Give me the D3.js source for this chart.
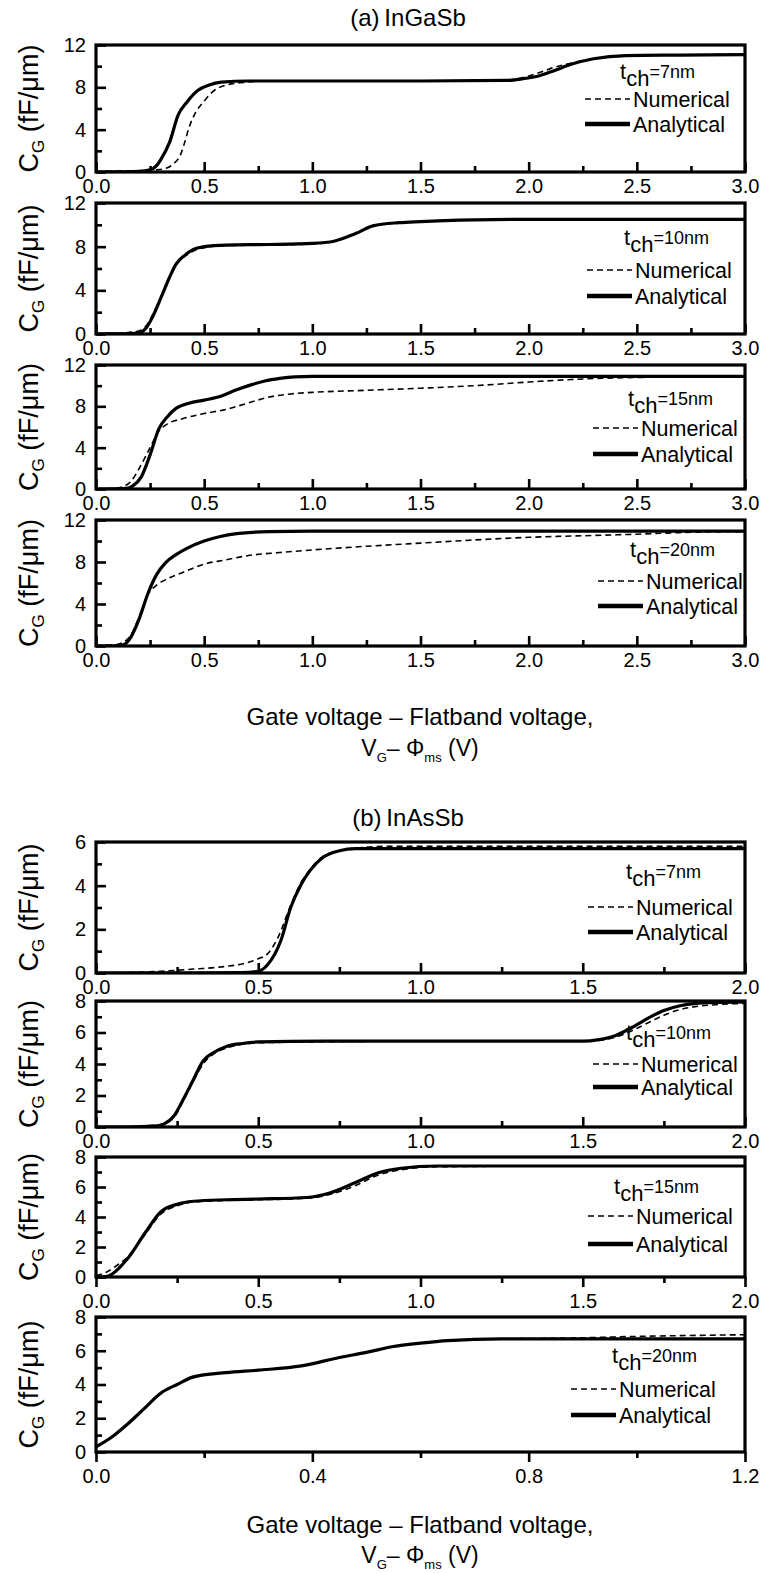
<!DOCTYPE html>
<html>
<head>
<meta charset="utf-8">
<script src="https://cdn.jsdelivr.net/npm/d3@7"></script>
<style>
  html, body { margin: 0; padding: 0; background: #fff; }
  svg { display: block; }
  text { font-family: "Liberation Sans", Arial, Helvetica, sans-serif; fill: #000; }
</style>
</head>
<body>
<svg id="chart" width="769" height="1573"></svg>
<script>
// ---- Gate capacitance C_G (fF/um) vs. V_G - Phi_ms (V) ----
// Each series: [voltage, capacitance]

// (a) InGaSb
const inGaSb7Num = [[0,0.05],[0.1,0.08],[0.2,0.12],[0.28,0.2],[0.33,0.4],[0.36,0.8],[0.39,1.6],[0.41,2.8],[0.43,4.2],[0.46,5.6],[0.5,6.7],[0.54,7.6],[0.6,8.2],[0.7,8.5],[0.8,8.6],[1.5,8.6],[1.9,8.7],[1.97,8.9],[2.05,9.4],[2.12,9.9],[2.2,10.3],[2.3,10.7],[2.45,11.0],[3.0,11.1]];
const inGaSb7Ana = [[0,0],[0.1,0.02],[0.2,0.05],[0.25,0.2],[0.28,0.6],[0.3,1.2],[0.34,2.8],[0.38,5.4],[0.42,6.6],[0.47,7.7],[0.52,8.2],[0.58,8.5],[0.7,8.6],[1.0,8.6],[1.5,8.6],[1.9,8.65],[1.97,8.8],[2.05,9.1],[2.12,9.6],[2.2,10.2],[2.3,10.7],[2.45,11.0],[2.7,11.05],[3.0,11.1]];

const inGaSb10Num = [[0,0.05],[0.1,0.05],[0.17,0.2],[0.2,0.3],[0.23,0.7],[0.26,1.7],[0.3,3.4],[0.34,5.2],[0.37,6.3],[0.41,7.1],[0.45,7.6],[0.5,7.9],[0.6,8.1],[0.8,8.15],[1.0,8.25],[1.1,8.5],[1.2,9.2],[1.28,9.9],[1.4,10.2],[1.5,10.3],[1.75,10.45],[3.0,10.5]];
const inGaSb10Ana = [[0,0],[0.15,0.02],[0.2,0.1],[0.23,0.5],[0.26,1.5],[0.3,3.3],[0.34,5.2],[0.37,6.4],[0.41,7.2],[0.45,7.75],[0.5,8.0],[0.6,8.15],[0.8,8.2],[1.0,8.3],[1.1,8.5],[1.2,9.2],[1.28,9.9],[1.4,10.2],[1.5,10.3],[1.75,10.45],[2.0,10.5],[3.0,10.5]];

const inGaSb15Num = [[0,0],[0.08,0.05],[0.12,0.2],[0.16,0.7],[0.2,2.0],[0.25,4.0],[0.29,5.6],[0.33,6.3],[0.4,6.8],[0.5,7.3],[0.6,7.7],[0.7,8.3],[0.8,8.9],[0.9,9.2],[1.0,9.35],[1.25,9.55],[1.5,9.75],[1.75,10.0],[2.0,10.35],[2.2,10.6],[2.4,10.75],[3.0,10.9]];
const inGaSb15Ana = [[0,0],[0.1,0.02],[0.15,0.1],[0.17,0.3],[0.21,1.2],[0.25,3.3],[0.29,5.8],[0.33,7.0],[0.37,7.8],[0.43,8.3],[0.5,8.6],[0.58,9.0],[0.65,9.6],[0.72,10.1],[0.78,10.45],[0.85,10.7],[0.92,10.85],[1.0,10.9],[2.0,10.9],[3.0,10.9]];

const inGaSb20Num = [[0,0.05],[0.08,0.1],[0.12,0.3],[0.16,1.0],[0.2,2.8],[0.24,4.9],[0.28,5.8],[0.32,6.3],[0.4,7.0],[0.5,7.8],[0.6,8.2],[0.7,8.6],[0.85,8.9],[1.0,9.15],[1.25,9.5],[1.5,9.8],[1.75,10.1],[2.0,10.35],[2.25,10.5],[2.5,10.65],[2.7,10.8],[3.0,10.9]];
const inGaSb20Ana = [[0,0],[0.1,0.02],[0.13,0.15],[0.16,0.8],[0.2,2.6],[0.24,5.0],[0.28,6.8],[0.32,7.9],[0.37,8.7],[0.42,9.3],[0.5,10.0],[0.57,10.4],[0.65,10.7],[0.8,10.9],[1.0,10.95],[3.0,10.95]];

// (b) InAsSb
const inAsSb7Num = [[0.1,0.02],[0.2,0.08],[0.3,0.18],[0.4,0.3],[0.46,0.45],[0.5,0.65],[0.53,0.9],[0.56,1.6],[0.6,3.1],[0.63,4.1],[0.66,4.75],[0.7,5.35],[0.75,5.6],[0.82,5.75],[0.9,5.8],[1.5,5.8],[2.0,5.8]];
const inAsSb7Ana = [[0,0],[0.3,0],[0.45,0.02],[0.5,0.08],[0.53,0.4],[0.57,1.5],[0.6,3.0],[0.63,4.0],[0.66,4.7],[0.7,5.3],[0.75,5.6],[0.8,5.7],[1.0,5.7],[2.0,5.7]];

const inAsSb10Num = [[0.1,0.02],[0.15,0.08],[0.2,0.15],[0.24,0.6],[0.27,1.7],[0.3,2.9],[0.33,4.0],[0.36,4.6],[0.4,5.0],[0.45,5.25],[0.5,5.35],[1.0,5.45],[1.5,5.45],[1.55,5.5],[1.6,5.7],[1.65,6.1],[1.7,6.6],[1.75,7.1],[1.8,7.45],[1.85,7.65],[1.9,7.75],[2.0,7.85]];
const inAsSb10Ana = [[0,0],[0.1,0],[0.18,0.05],[0.21,0.2],[0.24,0.7],[0.27,1.8],[0.3,3.0],[0.33,4.2],[0.36,4.7],[0.4,5.1],[0.45,5.3],[0.5,5.4],[0.7,5.45],[1.0,5.45],[1.5,5.45],[1.55,5.55],[1.6,5.8],[1.65,6.3],[1.7,6.9],[1.75,7.4],[1.8,7.7],[1.85,7.85],[1.9,7.9],[2.0,7.95]];

const inAsSb15Num = [[0,0.1],[0.03,0.3],[0.06,0.7],[0.1,1.4],[0.15,2.8],[0.2,4.2],[0.25,4.75],[0.3,5.0],[0.4,5.1],[0.5,5.15],[0.65,5.25],[0.72,5.5],[0.8,6.1],[0.87,6.8],[0.94,7.15],[1.05,7.35],[1.5,7.4],[2.0,7.4]];
const inAsSb15Ana = [[0,0],[0.03,0.02],[0.05,0.2],[0.08,0.8],[0.1,1.3],[0.15,2.9],[0.2,4.35],[0.25,4.85],[0.3,5.05],[0.4,5.15],[0.5,5.2],[0.65,5.3],[0.72,5.6],[0.8,6.3],[0.87,6.95],[0.94,7.25],[1.05,7.4],[1.5,7.4],[2.0,7.4]];

const inAsSb20Num = [[0,0.3],[0.03,0.9],[0.06,1.7],[0.09,2.6],[0.12,3.45],[0.15,4.0],[0.18,4.4],[0.24,4.7],[0.3,4.85],[0.38,5.1],[0.45,5.6],[0.5,5.9],[0.55,6.25],[0.6,6.45],[0.65,6.6],[0.75,6.7],[0.87,6.75],[1.0,6.85],[1.2,6.95]];
const inAsSb20Ana = [[0,0.3],[0.03,0.9],[0.06,1.7],[0.09,2.6],[0.12,3.5],[0.15,4.0],[0.18,4.45],[0.24,4.7],[0.3,4.85],[0.38,5.1],[0.45,5.6],[0.5,5.9],[0.55,6.25],[0.6,6.45],[0.65,6.6],[0.75,6.7],[1.0,6.7],[1.2,6.7]];

// Tick values
const xTicksA = [0, 0.5, 1.0, 1.5, 2.0, 2.5, 3.0];
const xMinorA = [0.25, 0.75, 1.25, 1.75, 2.25, 2.75];
const xTicksB = [0, 0.5, 1.0, 1.5, 2.0];
const xMinorB = [0.25, 0.75, 1.25, 1.75];
const xTicksB4 = [0, 0.4, 0.8, 1.2];
const xMinorB4 = [0.2, 0.6, 1.0];
const yTicksA = [0, 4, 8, 12];
const yMinorA = [2, 6, 10];
const yTicksB1 = [0, 2, 4, 6];
const yMinorB1 = [1, 3, 5];
const yTicksB = [0, 2, 4, 6, 8];
const yMinorB = [1, 3, 5, 7];

const channelThickness = ["7", "10", "15", "20", "7", "10", "15", "20"];
const legendNames = ["Numerical", "Analytical"];
const groupTitles = ["(a)\u2009InGaSb", "(b)\u2009InAsSb"];

// ---- Layout ----
const L = 96, R = 745;
const panels = [
  { num: inGaSb7Num,  ana: inGaSb7Ana,  xT: xTicksA,  xM: xMinorA,  yT: yTicksA,  yM: yMinorA,  top: 45,   bot: 172,  out: false, leg: { tx: 620, ty: 27, lx: 585, ly: [54, 79] } },
  { num: inGaSb10Num, ana: inGaSb10Ana, xT: xTicksA,  xM: xMinorA,  yT: yTicksA,  yM: yMinorA,  top: 203,  bot: 334,  out: false, leg: { tx: 624, ty: 35, lx: 587, ly: [67, 93] } },
  { num: inGaSb15Num, ana: inGaSb15Ana, xT: xTicksA,  xM: xMinorA,  yT: yTicksA,  yM: yMinorA,  top: 365,  bot: 489,  out: false, leg: { tx: 628, ty: 34, lx: 593, ly: [63, 89] } },
  { num: inGaSb20Num, ana: inGaSb20Ana, xT: xTicksA,  xM: xMinorA,  yT: yTicksA,  yM: yMinorA,  top: 520,  bot: 646,  out: false, leg: { tx: 630, ty: 30, lx: 598, ly: [61, 86] } },
  { num: inAsSb7Num,  ana: inAsSb7Ana,  xT: xTicksB,  xM: xMinorB,  yT: yTicksB1, yM: yMinorB1, top: 842,  bot: 973,  out: false, leg: { tx: 626, ty: 30, lx: 588, ly: [65, 90] } },
  { num: inAsSb10Num, ana: inAsSb10Ana, xT: xTicksB,  xM: xMinorB,  yT: yTicksB,  yM: yMinorB,  top: 1001, bot: 1127, out: false, leg: { tx: 626, ty: 32, lx: 593, ly: [63, 86] } },
  { num: inAsSb15Num, ana: inAsSb15Ana, xT: xTicksB,  xM: xMinorB,  yT: yTicksB,  yM: yMinorB,  top: 1157, bot: 1277, out: true,  leg: { tx: 614, ty: 30, lx: 588, ly: [59, 87] } },
  { num: inAsSb20Num, ana: inAsSb20Ana, xT: xTicksB4, xM: xMinorB4, yT: yTicksB,  yM: yMinorB,  top: 1317, bot: 1452, out: true,  leg: { tx: 612, ty: 39, lx: 571, ly: [72, 98] } }
];

const svg = d3.select("#chart");
svg.append("rect").attr("width", 769).attr("height", 1573).attr("fill", "#fff");

const fmtX = d3.format(".1f");
const fmtY = d3.format("d");
const majorLen = 10, minorLen = 6;

panels.forEach((p, i) => {
  const g = svg.append("g");
  const xMax = d3.max(p.xT), yMax = d3.max(p.yT);
  const x = d3.scaleLinear().domain([0, xMax]).range([L, R]);
  const y = d3.scaleLinear().domain([0, yMax]).range([p.bot, p.top]);

  // curves, clipped to the frame
  const clipId = "clip" + i;
  g.append("clipPath").attr("id", clipId)
    .append("rect").attr("x", L).attr("y", p.top).attr("width", R - L).attr("height", p.bot - p.top);

  const line = d3.line().x(d => x(d[0])).y(d => y(d[1])).curve(d3.curveMonotoneX);
  const curves = g.append("g").attr("clip-path", `url(#${clipId})`);
  curves.append("path").datum(p.num).attr("d", line)
    .attr("fill", "none").attr("stroke", "#000").attr("stroke-width", 1.6).attr("stroke-dasharray", "6,4");
  curves.append("path").datum(p.ana).attr("d", line)
    .attr("fill", "none").attr("stroke", "#000").attr("stroke-width", 3.2).attr("stroke-linejoin", "round");

  // x axis: minor + major ticks
  const xs = p.out ? 1 : -1;
  const xMinorAxis = d3.axisBottom(x).tickValues(p.xM).tickSize(xs * minorLen).tickFormat("");
  const xMajorAxis = d3.axisBottom(x).tickValues(p.xT).tickSize(xs * majorLen).tickPadding(7).tickFormat(fmtX);
  [xMinorAxis, xMajorAxis].forEach(ax => {
    const a = g.append("g").attr("transform", `translate(0,${p.bot})`).call(ax);
    a.select(".domain").remove();
    a.selectAll("line").attr("stroke", "#000").attr("stroke-width", 2.6);
    a.selectAll("text").attr("font-size", 20).attr("fill", "#000")
      .attr("font-family", '"Liberation Sans", Arial, sans-serif');
  });

  // y axis: inward ticks
  const yMinorAxis = d3.axisLeft(y).tickValues(p.yM).tickSize(-minorLen).tickFormat("");
  const yMajorAxis = d3.axisLeft(y).tickValues(p.yT).tickSize(-majorLen).tickPadding(10).tickFormat(fmtY);
  [yMinorAxis, yMajorAxis].forEach(ax => {
    const a = g.append("g").attr("transform", `translate(${L},0)`).call(ax);
    a.select(".domain").remove();
    a.selectAll("line").attr("stroke", "#000").attr("stroke-width", 2.6);
    a.selectAll("text").attr("font-size", 20).attr("fill", "#000")
      .attr("font-family", '"Liberation Sans", Arial, sans-serif');
  });

  // frame
  g.append("rect").attr("x", L).attr("y", p.top).attr("width", R - L).attr("height", p.bot - p.top)
    .attr("fill", "none").attr("stroke", "#000").attr("stroke-width", 3.2);

  // y axis title
  const yl = g.append("text")
    .attr("transform", `translate(38,${(p.top + p.bot) / 2}) rotate(-90)`)
    .attr("text-anchor", "middle").attr("font-size", 27);
  yl.append("tspan").text("C");
  yl.append("tspan").attr("font-size", 17).attr("dy", 6).text("G");
  yl.append("tspan").attr("dy", -6).text(" (fF/\u03bcm)");

  // legend
  const lg = p.leg;
  const tl = g.append("text").attr("x", lg.tx).attr("y", p.top + lg.ty + 7).attr("font-size", 22);
  tl.append("tspan").text("t");
  tl.append("tspan").attr("dy", 7).text("ch");
  tl.append("tspan").attr("dy", -8).attr("font-size", 18).text("=" + channelThickness[i] + "nm");

  const styles = [{ w: 1.6, dash: "6,4" }, { w: 4.4, dash: null }];
  legendNames.forEach((name, k) => {
    const yy = p.top + lg.ly[k];
    const s = styles[k];
    g.append("line").attr("x1", lg.lx).attr("x2", lg.lx + 45).attr("y1", yy).attr("y2", yy)
      .attr("stroke", "#000").attr("stroke-width", s.w).attr("stroke-dasharray", s.dash);
    g.append("text").attr("x", lg.lx + 48).attr("y", yy + 8).attr("font-size", 21.5).text(name);
  });
});

// group titles
svg.append("text").attr("x", 408).attr("y", 26).attr("text-anchor", "middle").attr("font-size", 24).text(groupTitles[0]);
svg.append("text").attr("x", 408).attr("y", 826).attr("text-anchor", "middle").attr("font-size", 24).text(groupTitles[1]);

// x axis titles under each group
function xTitle(y1, gap) {
  svg.append("text").attr("x", 420).attr("y", y1).attr("text-anchor", "middle").attr("font-size", 24)
    .text("Gate voltage \u2013 Flatband voltage,");
  const t = svg.append("text").attr("x", 420).attr("y", y1 + gap).attr("text-anchor", "middle").attr("font-size", 23);
  t.append("tspan").text("V");
  t.append("tspan").attr("font-size", 13).attr("dy", 6).text("G");
  t.append("tspan").attr("dy", -6).text("\u2013 \u03a6");
  t.append("tspan").attr("font-size", 13).attr("dy", 6).text("ms");
  t.append("tspan").attr("dy", -6).text(" (V)");
}
xTitle(725, 31);
xTitle(1533, 30);
</script>
</body>
</html>
